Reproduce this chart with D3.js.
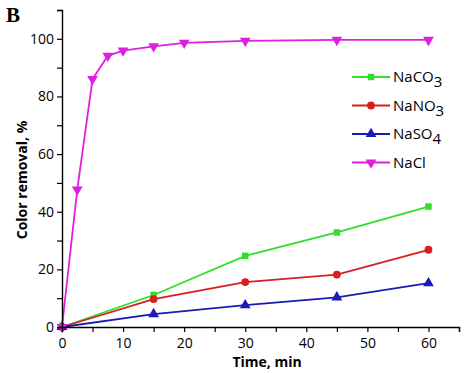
<!DOCTYPE html>
<html>
<head>
<meta charset="utf-8">
<script src="https://cdn.jsdelivr.net/npm/d3@7"></script>
<style>
  body { margin: 0; background: #fff; }
  text { font-family: "Open Sans", sans-serif; }
  text.panel { font-family: "Liberation Serif", serif; }
</style>
</head>
<body>
<svg id="chart"></svg>
<script>
// data
const timeShort = [0, 15, 30, 45, 60];
const timeCl = [0, 2.5, 5, 7.5, 10, 15, 20, 30, 45, 60];
const naco3 = [0, 11.1, 24.7, 32.8, 41.8];
const nano3 = [0, 9.7, 15.6, 18.2, 26.8];
const naso4 = [0, 4.5, 7.6, 10.3, 15.2];
const nacl = [0, 47.7, 86, 94.1, 95.9, 97.4, 98.6, 99.3, 99.6, 99.6];
const xTicks = [0, 10, 20, 30, 40, 50, 60];
const yTicks = [0, 20, 40, 60, 80, 100];

const series = [
  { name: "NaCO", sub: "3", x: timeShort, y: naco3, color: "#2fe02a", marker: "square" },
  { name: "NaNO", sub: "3", x: timeShort, y: nano3, color: "#d81e1e", marker: "circle" },
  { name: "NaSO", sub: "4", x: timeShort, y: naso4, color: "#1a1ab4", marker: "triangle" },
  { name: "NaCl", sub: "", x: timeCl, y: nacl, color: "#e01ee0", marker: "triangleDown" },
];

const W = 474, H = 373;
const margin = { top: 10, right: 15, bottom: 46, left: 62 };

const svg = d3.select("#chart").attr("width", W).attr("height", H);

const x = d3.scaleLinear().domain([0, 65]).range([margin.left, W - margin.right]);
const y = d3.scaleLinear().domain([0, 110]).range([H - margin.bottom, margin.top]);

const symbols = {
  square: d3.symbol().type(d3.symbolSquare).size(42),
  circle: d3.symbol().type(d3.symbolCircle).size(48),
  triangle: d3.symbol().type(d3.symbolTriangle).size(50),
  triangleDown: d3.symbol().type(d3.symbolTriangle).size(50),
};

// lines + markers
const line = d3.line().x(d => x(d[0])).y(d => y(d[1]));
series.forEach(s => {
  const pts = s.x.map((t, i) => [t, s.y[i]]);
  svg.append("path")
    .attr("d", line(pts))
    .attr("fill", "none")
    .attr("stroke", s.color)
    .attr("stroke-width", 1.8);
  svg.selectAll(null).data(pts).enter().append("path")
    .attr("d", symbols[s.marker]())
    .attr("transform", d => `translate(${x(d[0])},${y(d[1])})` + (s.marker === "triangleDown" ? " rotate(180)" : ""))
    .attr("fill", s.color);
});

// x axis
const xAxis = svg.append("g").attr("transform", `translate(0,${y(0)})`);
xAxis.call(d3.axisBottom(x).tickValues(d3.range(0, 66, 5)).tickSize(5).tickFormat(d => xTicks.includes(d) ? d : ""));
xAxis.select(".domain").attr("stroke-width", 1.4);
xAxis.selectAll(".tick line").attr("stroke-width", 1.2);
xAxis.selectAll(".tick text").attr("font-size", 14).attr("dy", "0.9em");

// y axis
const yAxis = svg.append("g").attr("transform", `translate(${x(0)},0)`);
yAxis.call(d3.axisLeft(y).tickValues(d3.range(0, 111, 10)).tickSize(5).tickFormat(d => yTicks.includes(d) ? d : ""));
yAxis.select(".domain").attr("stroke-width", 1.4);
yAxis.selectAll(".tick line").attr("stroke-width", 1.2);
yAxis.selectAll(".tick text").attr("font-size", 14);

// axis titles
svg.append("text")
  .attr("x", 267).attr("y", 367)
  .attr("text-anchor", "middle")
  .attr("font-size", 14).attr("font-weight", "bold")
  .text("Time, min");

svg.append("text")
  .attr("transform", `translate(27,180) rotate(-90)`)
  .attr("text-anchor", "middle")
  .attr("font-size", 14).attr("font-weight", "bold")
  .text("Color removal, %");

// panel letter
svg.append("text")
  .attr("class", "panel")
  .attr("x", 6).attr("y", 22)
  .attr("font-size", 21).attr("font-weight", "bold")
  .text("B");

// legend
const legend = svg.append("g").attr("transform", "translate(352,77)");
series.forEach((s, i) => {
  const g = legend.append("g").attr("transform", `translate(0,${i * 28.5})`);
  g.append("line").attr("x1", 0).attr("x2", 38).attr("stroke", s.color).attr("stroke-width", 1.8);
  g.append("path")
    .attr("d", symbols[s.marker]())
    .attr("transform", "translate(19,0)" + (s.marker === "triangleDown" ? " rotate(180)" : ""))
    .attr("fill", s.color);
  const t = g.append("text").attr("x", 41).attr("y", 5).attr("font-size", 15);
  t.append("tspan").text(s.name);
  if (s.sub) t.append("tspan").attr("dy", 5).text(s.sub);
});
</script>
</body>
</html>
